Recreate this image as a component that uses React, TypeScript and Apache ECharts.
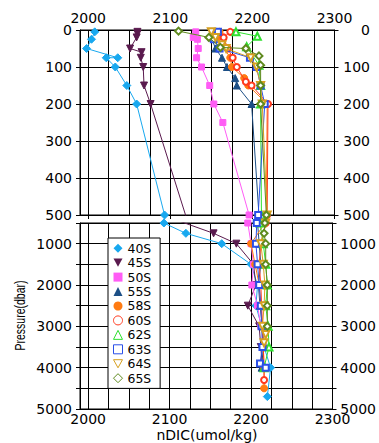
import React, { useEffect, useRef } from "react";
import * as echarts from "echarts";

const stationNames = ["40S", "45S", "50S", "55S", "58S", "60S", "62S", "63S", "64S", "65S"];

const depth40S = [5, 25, 50, 75, 75, 100, 150, 200, 500, 750, 1000, 1500, 2000, 2500, 3000, 3500, 4000, 4700];
const dic40S = [2008, 2004, 1998, 2036, 2022, 2033, 2047, 2059, 2093, 2120, 2164, 2200, 2208, 2206, 2213, 2216, 2224, 2220];

const depth45S = [5, 10, 20, 50, 60, 75, 100, 150, 200, 750, 1000, 1500, 2000, 2500, 3000, 3500, 4000];
const dic45S = [2060, 2060, 2059, 2051, 2065, 2064, 2067, 2068, 2076, 2154, 2182, 2203, 2206, 2196, 2210, 2212, 2214];

const depth50S = [5, 20, 25, 50, 75, 100, 150, 200, 250, 500, 1000, 1500, 2000, 2500, 3000];
const dic50S = [2131, 2128, 2133, 2134, 2132, 2138, 2148, 2153, 2164, 2196, 2200, 2203, 2201, 2208, 2212];

const depth55S = [5, 20, 50, 75, 100, 130, 150, 200, 500, 1000, 1500, 2000, 2500, 3000, 3500, 4000];
const dic55S = [2153, 2150, 2155, 2163, 2169, 2179, 2181, 2199, 2208, 2210, 2212, 2209, 2211, 2214, 2215, 2213];

const depth58S = [5, 20, 40, 75, 100, 130, 150, 200, 500, 1000, 1500, 2000, 2500, 3000, 3500, 4000, 4500];
const dic58S = [2160, 2158, 2163, 2173, 2175, 2190, 2195, 2218, 2217, 2200, 2205, 2210, 2212, 2214, 2215, 2216, 2216];

const depth60S = [5, 20, 50, 75, 100, 140, 150, 200, 500, 1000, 1500, 2000, 2500, 3000, 3500, 4000, 4300];
const dic60S = [2173, 2165, 2170, 2176, 2181, 2192, 2199, 2219, 2218, 2212, 2210, 2212, 2213, 2214, 2215, 2216, 2216];

const depth62S = [5, 17, 45, 95, 150, 200, 500, 1000, 1500, 2000, 2500, 3000, 3500, 4000];
const dic62S = [2180, 2206, 2193, 2208, 2210, 2210, 2211, 2215, 2218, 2220, 2218, 2221, 2222, 2216];

const depth63S = [5, 25, 50, 75, 100, 150, 200, 500, 1000, 1500, 2000, 2500, 3000, 3500, 3900, 4000];
const dic63S = [2158, 2153, 2160, 2197, 2205, 2210, 2215, 2207, 2206, 2208, 2210, 2212, 2213, 2214, 2211, 2218];

const depth64S = [5, 20, 40, 50, 75, 100, 150, 200, 500, 1000, 1500, 2000, 2500, 3000, 3200, 3400];
const dic64S = [2150, 2155, 2163, 2168, 2198, 2205, 2210, 2212, 2218, 2212, 2215, 2217, 2216, 2214, 2218, 2216];

const depth65S = [3, 20, 47, 50, 70, 95, 150, 200, 500, 750, 1000, 1500, 2000, 2500, 3000];
const dic65S = [2110, 2147, 2161, 2192, 2208, 2210, 2210, 2210, 2217, 2216, 2218, 2218, 2220, 2220, 2220];

const xTickLabels = [2000, 2100, 2200, 2300];
const xGridValues = [2000, 2025, 2050, 2075, 2100, 2125, 2150, 2175, 2200, 2225, 2250, 2275, 2300];

const profiles: Record<string, [number[], number[]]> = {
  "40S": [depth40S, dic40S],
  "45S": [depth45S, dic45S],
  "50S": [depth50S, dic50S],
  "55S": [depth55S, dic55S],
  "58S": [depth58S, dic58S],
  "60S": [depth60S, dic60S],
  "62S": [depth62S, dic62S],
  "63S": [depth63S, dic63S],
  "64S": [depth64S, dic64S],
  "65S": [depth65S, dic65S],
};

const INV_TRI = "path://M0,0L10,0L5,9Z";

const looks: Record<string, any> = {
  "40S": { color: "#18a8ef", symbol: "diamond", size: 8, rotate: 0, hollow: false, legendIcon: "diamond" },
  "45S": { color: "#5a1a4e", symbol: "triangle", size: 7, rotate: 180, hollow: false, legendIcon: INV_TRI },
  "50S": { color: "#ff5cf5", symbol: "rect", size: 6, rotate: 0, hollow: false, legendIcon: "rect" },
  "55S": { color: "#1c4f86", symbol: "triangle", size: 7, rotate: 0, hollow: false, legendIcon: "triangle" },
  "58S": { color: "#ff7b12", symbol: "circle", size: 7, rotate: 0, hollow: false, legendIcon: "circle" },
  "60S": { color: "#ff3a1e", symbol: "emptyCircle", size: 6, rotate: 0, hollow: true, legendIcon: "circle" },
  "62S": { color: "#2fe02f", symbol: "emptyTriangle", size: 7, rotate: 0, hollow: true, legendIcon: "triangle" },
  "63S": { color: "#2a4fe8", symbol: "emptyRect", size: 6, rotate: 0, hollow: true, legendIcon: "rect" },
  "64S": { color: "#d6a020", symbol: "emptyTriangle", size: 7, rotate: 180, hollow: true, legendIcon: INV_TRI },
  "65S": { color: "#5f8a1e", symbol: "emptyDiamond", size: 7, rotate: 0, hollow: true, legendIcon: "diamond" },
};

const FONT = "DejaVu Sans";

function buildOption() {
  const labelStyle = { color: "#000", fontFamily: FONT, fontSize: 14 };
  const lineBlack = { color: "#000", width: 1 };

  const xAxis = (grid: number, position: string, showLabels: boolean, margin: number) => ({
    type: "value",
    gridIndex: grid,
    position,
    min: 1990,
    max: 2300,
    axisLine: { show: true, onZero: false, lineStyle: lineBlack },
    axisTick: { show: false, customValues: xGridValues },
    axisLabel: {
      show: showLabels,
      customValues: xTickLabels,
      margin,
      ...labelStyle,
      formatter: (v: number) => String(v),
    },
    splitLine: { show: true, customValues: xGridValues, lineStyle: lineBlack },
  });

  const yAxis = (
    grid: number,
    position: string,
    min: number,
    max: number,
    interval: number,
    split: boolean,
    margin: number,
    align: string
  ) => ({
    type: "value",
    gridIndex: grid,
    position,
    inverse: true,
    min,
    max,
    interval,
    axisLine: { show: true, onZero: false, lineStyle: lineBlack },
    axisTick: { show: true, length: 4, lineStyle: lineBlack },
    axisLabel: {
      margin,
      align,
      ...labelStyle,
      formatter: (v: number) => (grid === 1 && v % 1000 !== 0 ? "" : String(v)),
    },
    splitLine: { show: split, lineStyle: lineBlack },
  });

  const series: any[] = [];
  stationNames.forEach((name, i) => {
    const [depths, dics] = profiles[name];
    const lk = looks[name];
    const pts = depths.map((d, k) => [dics[k], d]);
    [0, 1].forEach((g) => {
      series.push({
        type: "line",
        name,
        xAxisIndex: g === 0 ? 0 : 2,
        yAxisIndex: g === 0 ? 0 : 2,
        data: pts,
        symbol: lk.symbol,
        symbolSize: lk.size,
        symbolRotate: lk.rotate,
        showAllSymbol: true,
        clip: true,
        z: 3 + i,
        itemStyle: { color: lk.color, borderColor: lk.color, borderWidth: 1 },
        lineStyle: { color: lk.color, width: 1 },
        emphasis: { disabled: true },
      });
    });
  });

  return {
    animation: false,
    backgroundColor: "#fff",
    grid: [
      { left: 80, top: 30, width: 254.5, height: 185, show: true, borderColor: "#000", borderWidth: 1 },
      { left: 80, top: 223, width: 254.5, height: 186, show: true, borderColor: "#000", borderWidth: 1 },
    ],
    xAxis: [
      xAxis(0, "top", true, 5),
      {
        ...xAxis(0, "bottom", false, 4),
        splitLine: { show: false },
        axisTick: { show: true, customValues: xTickLabels, length: 4, lineStyle: lineBlack },
      },
      xAxis(1, "bottom", true, 3),
    ],
    yAxis: [
      yAxis(0, "left", 0, 500, 100, true, 8, "right"),
      yAxis(0, "right", 0, 500, 100, false, 35.5, "right"),
      yAxis(1, "left", 500, 5000, 500, true, 8, "right"),
      yAxis(1, "right", 500, 5000, 500, false, 43.5, "right"),
    ],
    legend: {
      orient: "vertical",
      left: 108,
      top: 238,
      padding: [3, 9, 3, 5],
      backgroundColor: "#fff",
      borderColor: "#000",
      borderWidth: 1,
      borderRadius: 0,
      itemWidth: 9,
      itemHeight: 9,
      itemGap: 0,
      selectedMode: false,
      textStyle: { color: "#000", fontFamily: FONT, fontSize: 12.4, lineHeight: 14.44 },
      data: stationNames.map((name) => {
        const lk = looks[name];
        return {
          name,
          icon: lk.legendIcon,
          itemStyle: lk.hollow
            ? { color: "#fff", borderColor: lk.color, borderWidth: 1 }
            : { color: lk.color, borderColor: lk.color, borderWidth: 0 },
        };
      }),
      z: 20,
    },
    graphic: [
      {
        type: "text",
        x: 20,
        y: 315.5,
        rotation: Math.PI / 2,
        scaleY: 1.35,
        style: {
          text: "Pressure(dbar)",
          fontFamily: "Liberation Sans",
          fontSize: 10.5,
          fill: "#000",
          textAlign: "center",
          textVerticalAlign: "middle",
        },
      },
      {
        type: "text",
        x: 207,
        y: 435,
        style: {
          text: "nDIC(umol/kg)",
          fontFamily: FONT,
          fontSize: 14,
          fill: "#000",
          textAlign: "center",
          textVerticalAlign: "middle",
        },
      },
    ],
    series,
  };
}

export default function App() {
  const ref = useRef<HTMLDivElement>(null);
  useEffect(() => {
    if (!ref.current) return;
    const chart = echarts.init(ref.current, undefined, { renderer: "svg" });
    chart.setOption(buildOption() as any);
    return () => chart.dispose();
  }, []);
  return <div ref={ref} style={{ width: 379, height: 443, position: "absolute", left: 0, top: 0 }} />;
}
